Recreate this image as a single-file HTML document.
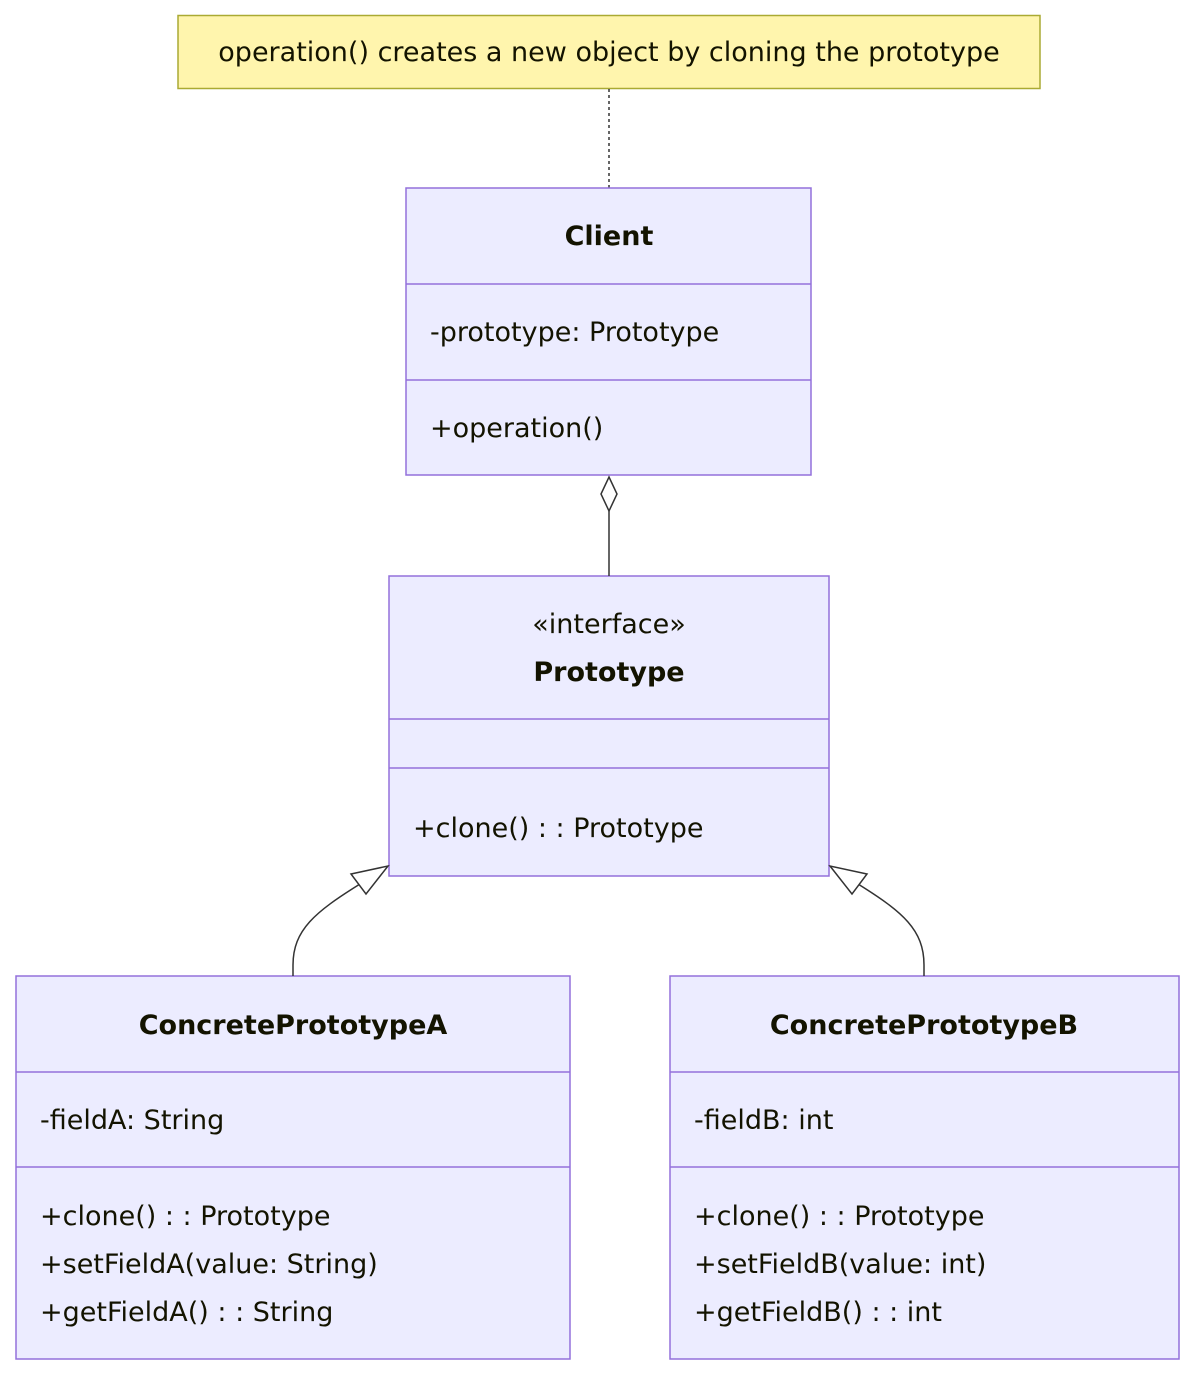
<!DOCTYPE html>
<html><head><meta charset="utf-8"><style>
html,body{margin:0;padding:0;background:#fff;}
text{font-family:"DejaVu Sans","Liberation Sans",sans-serif;fill:#131300;font-size:27px;}
.b{font-weight:bold;}
</style></head><body>
<svg width="1195" height="1376" viewBox="0 0 1195 1376" xmlns="http://www.w3.org/2000/svg">
<rect x="178" y="15.5" width="862" height="73" fill="#fff5ad" stroke="#aaaa33" stroke-width="1.5"/>
<text x="609" y="61" text-anchor="middle" font-size="26">operation() creates a new object by cloning the prototype</text>
<line x1="609" y1="89" x2="609" y2="188" stroke="#333" stroke-width="1.5" stroke-dasharray="3,3"/>

<g fill="#ececff" stroke="#9370db" stroke-width="1.5">
<rect x="406" y="188" width="405" height="287"/>
<rect x="389" y="576" width="440" height="300"/>
<rect x="16" y="976" width="554" height="383"/>
<rect x="670" y="976" width="509" height="383"/>
</g>
<g stroke="#9370db" stroke-width="1.5">
<line x1="406" y1="284" x2="811" y2="284"/><line x1="406" y1="380" x2="811" y2="380"/>
<line x1="389" y1="719" x2="829" y2="719"/><line x1="389" y1="768" x2="829" y2="768"/>
<line x1="16" y1="1072" x2="570" y2="1072"/><line x1="16" y1="1167" x2="570" y2="1167"/>
<line x1="670" y1="1072" x2="1179" y2="1072"/><line x1="670" y1="1167" x2="1179" y2="1167"/>
</g>

<text x="609" y="245" text-anchor="middle" class="b">Client</text>
<text x="430" y="341">-prototype: Prototype</text>
<text x="430" y="437">+operation()</text>

<text x="609" y="633" text-anchor="middle">«interface»</text>
<text x="609" y="681" text-anchor="middle" class="b">Prototype</text>
<text x="413" y="837">+clone() : : Prototype</text>

<text x="293" y="1034" text-anchor="middle" class="b">ConcretePrototypeA</text>
<text x="40" y="1129">-fieldA: String</text>
<text x="40" y="1225">+clone() : : Prototype</text>
<text x="40" y="1273">+setFieldA(value: String)</text>
<text x="40" y="1321">+getFieldA() : : String</text>

<text x="924" y="1034" text-anchor="middle" class="b">ConcretePrototypeB</text>
<text x="694" y="1129">-fieldB: int</text>
<text x="694" y="1225">+clone() : : Prototype</text>
<text x="694" y="1273">+setFieldB(value: int)</text>
<text x="694" y="1321">+getFieldB() : : int</text>

<g stroke="#333" stroke-width="1.5" fill="none">
<line x1="609" y1="511" x2="609" y2="576"/>
<path d="M293,976 L293,965 C293,930 315,912 360,884"/>
<path d="M924,976 L924,965 C924,930 903,912 858,884"/>
</g>
<polygon points="609,477 617,494 609,511 601,494" fill="#fff" stroke="#333" stroke-width="1.5"/>
<polygon points="388,866 366,894 351,874" fill="#fff" stroke="#333" stroke-width="1.5"/>
<polygon points="830,866 852,894 867,874" fill="#fff" stroke="#333" stroke-width="1.5"/>
</svg>
</body></html>
